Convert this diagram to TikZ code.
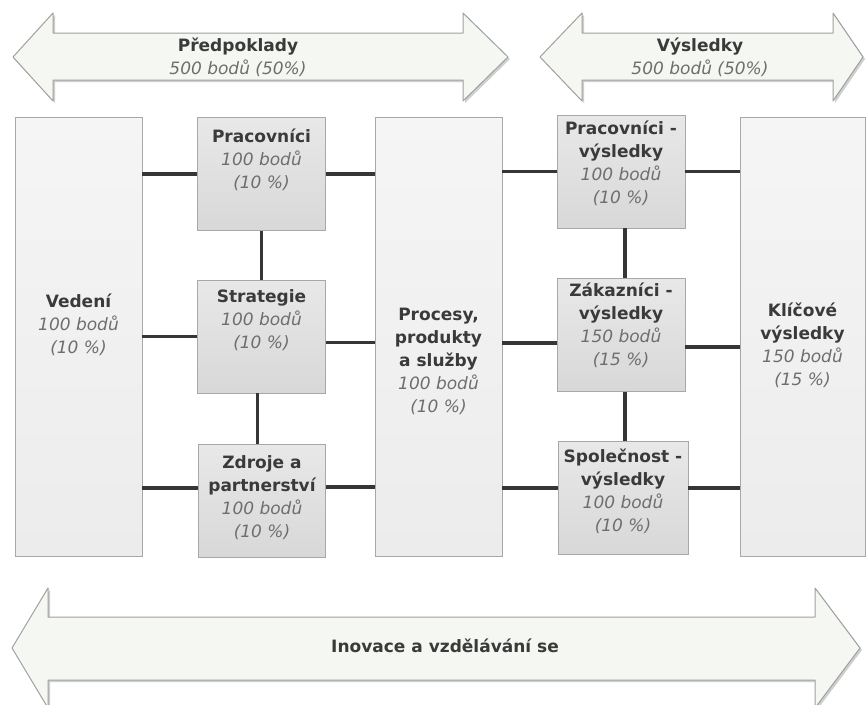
\documentclass[tikz,border=0pt]{standalone}
\usepackage{fontspec}
\setmainfont{DejaVu Sans}
\definecolor{linec}{HTML}{363636}
\definecolor{boxline}{HTML}{A8A8A8}
\definecolor{sbtop}{HTML}{E8E8E8}
\definecolor{sbbot}{HTML}{D8D8D8}
\definecolor{bbtop}{HTML}{F5F5F5}
\definecolor{bbbot}{HTML}{ECECEC}
\definecolor{arrfill}{HTML}{F4F7F2}
\definecolor{arrline}{HTML}{A0A0A0}
\definecolor{arrshadow}{HTML}{CFCFCF}
\definecolor{tcol}{HTML}{3A3A3A}
\definecolor{icol}{HTML}{6E6E6E}
\newcommand{\pts}[1]{\textcolor{icol}{\mdseries\itshape #1}}
\begin{document}
\begin{tikzpicture}[x=1pt,y=-1pt,
  smallbox/.style={draw=boxline, line width=0.8pt, top color=sbtop, bottom color=sbbot,
    minimum width=127pt, minimum height=113pt, inner sep=0pt},
  bigbox/.style={draw=boxline, line width=0.8pt, top color=bbtop, bottom color=bbbot,
    minimum width=127pt, minimum height=439pt, inner sep=0pt},
  txt/.style={align=center, font=\fontsize{17}{23}\selectfont\bfseries, text=tcol, inner sep=0pt},
  conn/.style={draw=linec, line width=3.2pt},
  bigarrow/.style={fill=arrfill, draw=arrline, line width=1pt, line join=round},
  arrshade/.style={fill=arrshadow, draw=none}
]
\useasboundingbox (0,0) rectangle (867,704);
\fill[white] (0,0) rectangle (867,704);

% ---- top left arrow
\path[arrshade] (14,59) -- (55,15) -- (55,35) -- (465,35) -- (465,15) -- (510,59) -- (465,103) -- (465,82) -- (55,82) -- (55,103) -- cycle;
\path[bigarrow] (13,57) -- (53,13) -- (53,33) -- (463,33) -- (463,13) -- (508,57) -- (463,101) -- (463,80) -- (53,80) -- (53,101) -- cycle;
\node[txt] (pred) at (238,57) {Předpoklady\\ \pts{500 bodů (50\%)}};

% ---- top right arrow
\path[arrshade] (542,59) -- (584,15) -- (584,35) -- (835,35) -- (835,15) -- (865,59) -- (835,103) -- (835,82) -- (584,82) -- (584,103) -- cycle;
\path[bigarrow] (540,57) -- (582,13) -- (582,33) -- (833,33) -- (833,13) -- (863,57) -- (833,101) -- (833,80) -- (582,80) -- (582,101) -- cycle;
\node[txt] (vys) at (700,57) {Výsledky\\ \pts{500 bodů (50\%)}};

% ---- bottom arrow
\path[arrshade] (14,650) -- (50,590) -- (50,619) -- (817,619) -- (817,590) -- (862,650) -- (817,710) -- (817,682) -- (50,682) -- (50,710) -- cycle;
\path[bigarrow] (12,648) -- (48,588) -- (48,617) -- (815,617) -- (815,588) -- (860,648) -- (815,708) -- (815,680) -- (48,680) -- (48,708) -- cycle;
\node[txt] (inov) at (445,646) {Inovace a vzdělávání se};

% ---- boxes
\node[bigbox] (ved) at (78.5,336.5) {};
\node[bigbox] (proc) at (438.5,336.5) {};
\node[bigbox, minimum width=125pt] (klic) at (802.5,336.5) {};
\node[smallbox, minimum width=128pt] (prac) at (261.5,174) {};
\node[smallbox, minimum width=128pt] (strat) at (261.5,336.5) {};
\node[smallbox, minimum width=127pt] (zdr) at (262,501) {};
\node[smallbox, minimum width=128pt] (pv) at (621,171.5) {};
\node[smallbox, minimum width=128pt] (zv) at (621,335) {};
\node[smallbox, minimum width=130pt] (sv) at (623,498) {};

% ---- texts
\node[txt] (vedt) at ([yshift=11.5pt]ved.center) {Vedení\\ \pts{100 bodů}\\ \pts{(10 \%)}};
\node[txt] (proct) at ([yshift=-24.5pt]proc.center) {Procesy,\\ produkty\\ a služby\\ \pts{100 bodů}\\ \pts{(10 \%)}};
\node[txt] (klict) at ([yshift=-8.5pt]klic.center) {Klíčové\\ výsledky\\ \pts{150 bodů}\\ \pts{(15 \%)}};
\node[txt] (pract) at ([yshift=14pt]prac.center) {Pracovníci\\ \pts{100 bodů}\\ \pts{(10 \%)}};
\node[txt] (stratt) at ([yshift=16pt]strat.center) {Strategie\\ \pts{100 bodů}\\ \pts{(10 \%)}};
\node[txt] (zdrt) at ([yshift=3pt]zdr.center) {Zdroje a\\ partnerství\\ \pts{100 bodů}\\ \pts{(10 \%)}};
\node[txt] (pvt) at ([yshift=8.5pt]pv.center) {Pracovníci -\\ výsledky\\ \pts{100 bodů}\\ \pts{(10 \%)}};
\node[txt] (zvt) at ([yshift=10pt]zv.center) {Zákazníci -\\ výsledky\\ \pts{150 bodů}\\ \pts{(15 \%)}};
\node[txt] (svt) at ([yshift=7pt]sv.center) {Společnost -\\ výsledky\\ \pts{100 bodů}\\ \pts{(10 \%)}};

% ---- connector levels
\coordinate (zl) at ([yshift=13pt]zdr.west);
\coordinate (zr) at ([yshift=14pt]zdr.east);
\coordinate (sr) at ([yshift=-6pt]strat.east);
\coordinate (zvl) at ([yshift=-8pt]zv.west);
\coordinate (zvr) at ([yshift=-12pt]zv.east);
\coordinate (svl) at ([yshift=10pt]sv.west);
\coordinate (svr) at ([yshift=10pt]sv.east);

% ---- connectors
\draw[conn] (ved.east |- prac.west) -- (prac.west);
\draw[conn] (ved.east |- strat.west) -- (strat.west);
\draw[conn] (ved.east |- zl) -- (zl);
\draw[conn] (prac.east) -- (proc.west |- prac.east);
\draw[conn] (sr) -- (proc.west |- sr);
\draw[conn] (zr) -- (proc.west |- zr);
\draw[conn] (prac.south) -- (strat.north);
\draw[conn] ([xshift=-4pt]strat.south) -- ([xshift=-4pt]strat.south |- zdr.north);
\draw[conn] (proc.east |- pv.west) -- (pv.west);
\draw[conn] (pv.east) -- (klic.west |- pv.east);
\draw[conn] (proc.east |- zvl) -- (zvl);
\draw[conn] (zvr) -- (klic.west |- zvr);
\draw[conn] (proc.east |- svl) -- (svl);
\draw[conn] (svr) -- (klic.west |- svr);
\draw[conn] ([xshift=4pt]pv.south) -- ([xshift=4pt]pv.south |- zv.north);
\draw[conn] ([xshift=4pt]zv.south) -- ([xshift=4pt]zv.south |- sv.north);
\end{tikzpicture}
\end{document}
